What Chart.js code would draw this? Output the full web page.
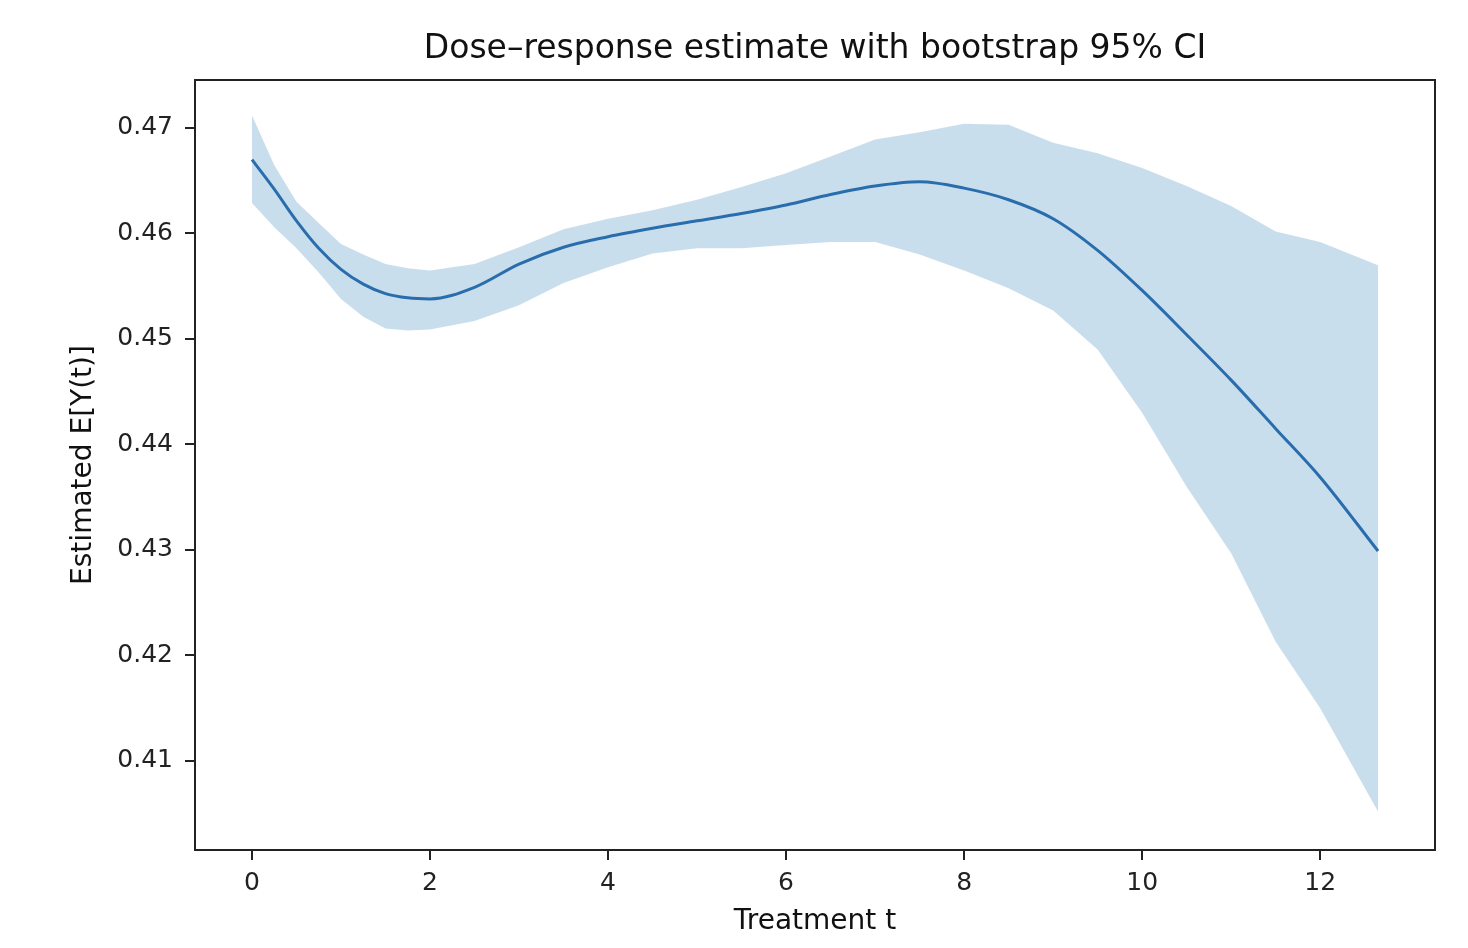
<!DOCTYPE html>
<html>
<head>
<meta charset="utf-8">
<title>Dose-response estimate</title>
<script src="https://cdn.jsdelivr.net/npm/chart.js@4.4.1/dist/chart.umd.min.js"></script>
<style>
  html, body { margin: 0; padding: 0; background: #fff; }
  #wrap { width: 1468px; height: 948px; }
</style>
</head>
<body>
<div id="wrap"><canvas id="grafDose"></canvas></div>
<script>
// treatment grid and estimates
const tGrid  = [0, 0.25, 0.5, 0.75, 1, 1.25, 1.5, 1.75, 2, 2.5, 3, 3.5, 4, 4.5, 5, 5.5, 6, 6.5, 7, 7.5, 8, 8.5, 9, 9.5, 10, 10.5, 11, 11.5, 12, 12.65];
const meanY  = [0.4670, 0.4642, 0.4612, 0.4586, 0.4566, 0.4552, 0.4543, 0.4539, 0.4538, 0.4549, 0.4571, 0.4587, 0.4597, 0.4605, 0.4612, 0.4619, 0.4627, 0.4637, 0.4645, 0.4649, 0.4643, 0.4632, 0.4614, 0.4584, 0.4546, 0.4504, 0.4461, 0.4415, 0.4369, 0.4299];
const ciUpper = [0.4712, 0.4665, 0.4630, 0.4610, 0.4590, 0.4580, 0.4571, 0.4567, 0.4565, 0.4571, 0.4587, 0.4604, 0.4614, 0.4622, 0.4632, 0.4644, 0.4657, 0.4673, 0.4689, 0.4696, 0.4704, 0.4703, 0.4686, 0.4676, 0.4662, 0.4645, 0.4626, 0.4602, 0.4592, 0.4570];
const ciLower = [0.4629, 0.4606, 0.4586, 0.4563, 0.4538, 0.4521, 0.4510, 0.4508, 0.4509, 0.4517, 0.4532, 0.4553, 0.4568, 0.4581, 0.4586, 0.4586, 0.4589, 0.4592, 0.4592, 0.4580, 0.4565, 0.4548, 0.4527, 0.4490, 0.4430, 0.4360, 0.4297, 0.4213, 0.4150, 0.4052];

const xTicks = [0, 2, 4, 6, 8, 10, 12];
const yTicks = [0.41, 0.42, 0.43, 0.44, 0.45, 0.46, 0.47];

const pares = ys => tGrid.map((t, i) => ({ x: t, y: ys[i] }));

// moldura dos quatro lados (estilo matplotlib)
const moldura = {
  id: "moldura",
  afterDatasetsDraw(chart) {
    const { ctx, chartArea: a } = chart;
    ctx.save();
    ctx.strokeStyle = "#222";
    ctx.lineWidth = 2;
    ctx.strokeRect(a.left, a.top, a.right - a.left, a.bottom - a.top);
    ctx.restore();
  }
};

const familia = "'DejaVu Sans', sans-serif";
const fonteTick = { family: familia, size: 25 };
const fonteEixo = { family: familia, size: 28 };

new Chart(document.getElementById("grafDose"), {
  type: "line",
  plugins: [moldura],
  data: {
    datasets: [
      {
        label: "lower",
        data: pares(ciLower),
        borderWidth: 0,
        pointRadius: 0,
        fill: false,
        tension: 0
      },
      {
        label: "upper",
        data: pares(ciUpper),
        borderWidth: 0,
        pointRadius: 0,
        fill: "-1",
        backgroundColor: "rgba(31,119,180,0.24)",
        tension: 0
      },
      {
        label: "mean",
        data: pares(meanY),
        borderColor: "#2e6bab",
        borderWidth: 3,
        pointRadius: 0,
        fill: false,
        cubicInterpolationMode: "monotone"
      }
    ]
  },
  options: {
    responsive: true,
    maintainAspectRatio: false,
    animation: false,
    layout: { padding: { left: 0, right: 33, top: 0, bottom: 0 } },
    plugins: {
      legend: { display: false },
      tooltip: { enabled: false },
      title: { display: false }
    },
    scales: {
      // eixo de cima só para centralizar o título sobre a área do gráfico
      topo: {
        type: "linear",
        position: "top",
        min: -0.64,
        max: 13.29,
        afterFit: s => { s.height = 80; },
        border: { display: false },
        grid: { display: false },
        ticks: { display: false },
        title: {
          display: true,
          text: "Dose–response estimate with bootstrap 95% CI",
          color: "#111",
          font: { family: familia, size: 33 },
          padding: { top: 30, bottom: 0 }
        }
      },
      x: {
        type: "linear",
        position: "bottom",
        min: -0.64,
        max: 13.29,
        afterBuildTicks: s => { s.ticks = xTicks.map(v => ({ value: v })); },
        afterFit: s => { s.height = 98; },
        border: { display: false },
        grid: { drawOnChartArea: false, tickLength: 10, color: "#222", lineWidth: 2 },
        ticks: { color: "#222", font: fonteTick, padding: 8, maxRotation: 0, callback: v => String(v) },
        title: { display: true, text: "Treatment t", color: "#111", font: fonteEixo, padding: { top: 0, bottom: 9 } }
      },
      y: {
        type: "linear",
        min: 0.40156,
        max: 0.47455,
        afterBuildTicks: s => { s.ticks = yTicks.map(v => ({ value: v })); },
        afterFit: s => { s.width = 195; },
        border: { display: false },
        grid: { drawOnChartArea: false, tickLength: 10, color: "#222", lineWidth: 2 },
        ticks: { color: "#222", font: fonteTick, padding: 12, callback: v => Number(v).toFixed(2) },
        title: { display: true, text: "Estimated E[Y(t)]", color: "#111", font: fonteEixo, padding: { top: 67, bottom: 0 } }
      }
    }
  }
});
</script>
</body>
</html>
